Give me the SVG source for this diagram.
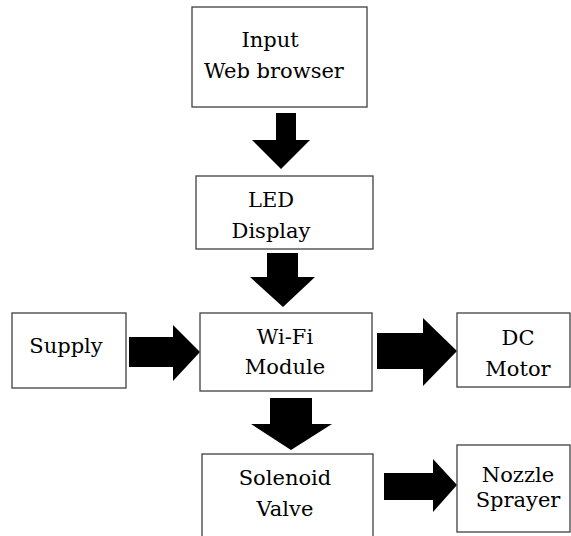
<svg xmlns="http://www.w3.org/2000/svg" width="571" height="536" viewBox="0 0 571 536">
<style>
.box{fill:#fff;stroke:#404040;stroke-width:1.3}
.t{font-family:'DejaVu Serif','Liberation Serif',serif;font-size:21px;fill:#000;text-anchor:middle}
.ar{fill:#000}
</style>
<rect width="571" height="536" fill="#fff"/>
<g id="connectors">
<polygon class="ar" points="276,113 296,113 296,140 310,140 281,169 252,140 276,140"/>
<polygon class="ar" points="267,253 298,253 298,277 315,277 283,307 250,277 267,277"/>
<polygon class="ar" points="129,337 173,337 173,325 200,352 173,381 173,367 129,367"/>
<polygon class="ar" points="377,333 423,333 423,318 457,351 423,386 423,369 377,369"/>
<polygon class="ar" points="270,398 312,398 312,424 332,424 291,450 251,424 270,424"/>
<polygon class="ar" points="384,473 433,473 433,459 457,485 433,512 433,500 384,500"/>
</g>
<g id="input">
<rect class="box" x="192" y="7" width="175" height="100"/>
<text class="t" x="270" y="47">Input</text>
<text class="t" x="274" y="78">Web browser</text>
</g>
<g id="led">
<rect class="box" x="196" y="176" width="177" height="73"/>
<text class="t" x="271" y="207">LED</text>
<text class="t" x="271" y="238">Display</text>
</g>
<g id="supply">
<rect class="box" x="12" y="313" width="114" height="75"/>
<text class="t" x="66" y="353">Supply</text>
</g>
<g id="wifi">
<rect class="box" x="200" y="313" width="172" height="78"/>
<text class="t" x="285" y="344">Wi-Fi</text>
<text class="t" x="285" y="374">Module</text>
</g>
<g id="dcmotor">
<rect class="box" x="457" y="313" width="113" height="74"/>
<text class="t" x="518" y="345">DC</text>
<text class="t" x="518" y="376">Motor</text>
</g>
<g id="solenoid">
<rect class="box" x="202" y="454" width="171" height="90"/>
<text class="t" x="285" y="485">Solenoid</text>
<text class="t" x="285" y="516">Valve</text>
</g>
<g id="nozzle">
<rect class="box" x="457" y="445" width="113" height="87"/>
<text class="t" x="518" y="482">Nozzle</text>
<text class="t" x="518" y="507">Sprayer</text>
</g>
</svg>
